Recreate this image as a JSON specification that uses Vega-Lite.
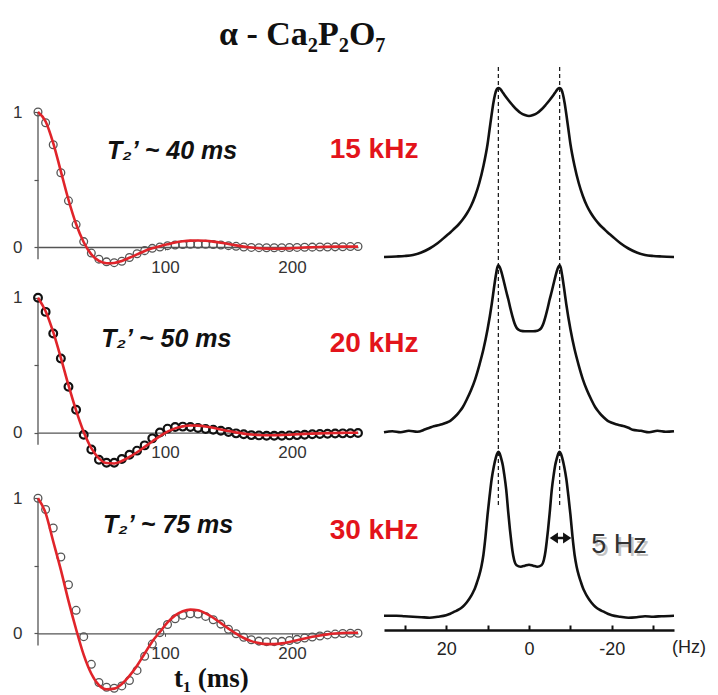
{
"$schema": "https://vega.github.io/schema/vega-lite/v6.json",
"background": "white",
"padding": {"left": 12, "top": 18, "right": 2, "bottom": 0},
"bounds": "flush",
"spacing": 346,
"config": {"view": {"stroke": null}, "axis": {"grid": false}},
"datasets": {
"c1": [{"t":0,"v":1.0},{"t":6,"v":0.92},{"t":12,"v":0.757},{"t":18,"v":0.55},{"t":24,"v":0.342},{"t":30,"v":0.166},{"t":36,"v":0.04},{"t":42,"v":-0.045},{"t":48,"v":-0.09},{"t":54,"v":-0.11},{"t":60,"v":-0.116},{"t":66,"v":-0.106},{"t":72,"v":-0.078},{"t":78,"v":-0.05},{"t":84,"v":-0.027},{"t":90,"v":-0.01},{"t":96,"v":0.0},{"t":102,"v":0.01},{"t":108,"v":0.015},{"t":114,"v":0.018},{"t":120,"v":0.02},{"t":126,"v":0.02},{"t":132,"v":0.02},{"t":138,"v":0.018},{"t":144,"v":0.015},{"t":150,"v":0.01},{"t":156,"v":0.005},{"t":162,"v":0.0},{"t":168,"v":-0.003},{"t":174,"v":-0.005},{"t":180,"v":-0.006},{"t":186,"v":-0.006},{"t":192,"v":-0.005},{"t":198,"v":-0.004},{"t":204,"v":-0.003},{"t":210,"v":-0.002},{"t":216,"v":-0.001},{"t":222,"v":0.0},{"t":228,"v":0.0},{"t":234,"v":0.001},{"t":240,"v":0.002},{"t":246,"v":0.003},{"t":252,"v":0.004}],
"f1": [{"t":0,"v":1.0},{"t":6,"v":0.93},{"t":12,"v":0.77},{"t":18,"v":0.56},{"t":24,"v":0.35},{"t":30,"v":0.17},{"t":36,"v":0.035},{"t":42,"v":-0.055},{"t":48,"v":-0.103},{"t":54,"v":-0.12},{"t":60,"v":-0.118},{"t":66,"v":-0.103},{"t":72,"v":-0.08},{"t":78,"v":-0.055},{"t":84,"v":-0.03},{"t":90,"v":-0.01},{"t":96,"v":0.006},{"t":102,"v":0.02},{"t":108,"v":0.033},{"t":114,"v":0.042},{"t":120,"v":0.047},{"t":126,"v":0.048},{"t":132,"v":0.046},{"t":138,"v":0.04},{"t":144,"v":0.032},{"t":150,"v":0.022},{"t":156,"v":0.012},{"t":162,"v":0.003},{"t":168,"v":-0.004},{"t":174,"v":-0.009},{"t":180,"v":-0.012},{"t":186,"v":-0.013},{"t":192,"v":-0.012},{"t":198,"v":-0.01},{"t":204,"v":-0.007},{"t":210,"v":-0.004},{"t":216,"v":-0.002},{"t":222,"v":0.0},{"t":228,"v":0.002},{"t":234,"v":0.003},{"t":240,"v":0.003},{"t":246,"v":0.003},{"t":252,"v":0.003}],
"c2": [{"t":0,"v":1.0},{"t":6,"v":0.895},{"t":12,"v":0.735},{"t":18,"v":0.55},{"t":24,"v":0.34},{"t":30,"v":0.17},{"t":36,"v":-0.015},{"t":42,"v":-0.125},{"t":48,"v":-0.2},{"t":54,"v":-0.222},{"t":60,"v":-0.222},{"t":66,"v":-0.195},{"t":72,"v":-0.163},{"t":78,"v":-0.133},{"t":84,"v":-0.094},{"t":90,"v":-0.042},{"t":96,"v":0.002},{"t":102,"v":0.03},{"t":108,"v":0.042},{"t":114,"v":0.045},{"t":120,"v":0.042},{"t":126,"v":0.035},{"t":132,"v":0.028},{"t":138,"v":0.022},{"t":144,"v":0.015},{"t":150,"v":0.005},{"t":156,"v":-0.005},{"t":162,"v":-0.012},{"t":168,"v":-0.018},{"t":174,"v":-0.02},{"t":180,"v":-0.022},{"t":186,"v":-0.022},{"t":192,"v":-0.022},{"t":198,"v":-0.02},{"t":204,"v":-0.018},{"t":210,"v":-0.015},{"t":216,"v":-0.012},{"t":222,"v":-0.01},{"t":228,"v":-0.008},{"t":234,"v":-0.006},{"t":240,"v":-0.005},{"t":246,"v":-0.004},{"t":252,"v":-0.003}],
"f2": [{"t":0,"v":1.0},{"t":6,"v":0.9},{"t":12,"v":0.745},{"t":18,"v":0.555},{"t":24,"v":0.352},{"t":30,"v":0.165},{"t":36,"v":0.005},{"t":42,"v":-0.115},{"t":48,"v":-0.19},{"t":54,"v":-0.225},{"t":60,"v":-0.228},{"t":66,"v":-0.21},{"t":72,"v":-0.18},{"t":78,"v":-0.145},{"t":84,"v":-0.105},{"t":90,"v":-0.065},{"t":96,"v":-0.025},{"t":102,"v":0.008},{"t":108,"v":0.032},{"t":114,"v":0.047},{"t":120,"v":0.053},{"t":126,"v":0.052},{"t":132,"v":0.046},{"t":138,"v":0.036},{"t":144,"v":0.024},{"t":150,"v":0.012},{"t":156,"v":0.002},{"t":162,"v":-0.007},{"t":168,"v":-0.013},{"t":174,"v":-0.017},{"t":180,"v":-0.019},{"t":186,"v":-0.019},{"t":192,"v":-0.017},{"t":198,"v":-0.015},{"t":204,"v":-0.012},{"t":210,"v":-0.009},{"t":216,"v":-0.007},{"t":222,"v":-0.005},{"t":228,"v":-0.003},{"t":234,"v":-0.002},{"t":240,"v":-0.001},{"t":246,"v":0.0},{"t":252,"v":0.0}],
"c3": [{"t":0,"v":1.0},{"t":6,"v":0.917},{"t":12,"v":0.78},{"t":18,"v":0.565},{"t":24,"v":0.36},{"t":30,"v":0.17},{"t":36,"v":-0.025},{"t":42,"v":-0.23},{"t":48,"v":-0.365},{"t":54,"v":-0.4},{"t":60,"v":-0.407},{"t":66,"v":-0.39},{"t":72,"v":-0.35},{"t":78,"v":-0.275},{"t":84,"v":-0.17},{"t":90,"v":-0.08},{"t":96,"v":0.005},{"t":102,"v":0.065},{"t":108,"v":0.108},{"t":114,"v":0.133},{"t":120,"v":0.145},{"t":126,"v":0.143},{"t":132,"v":0.125},{"t":138,"v":0.1},{"t":144,"v":0.068},{"t":150,"v":0.03},{"t":156,"v":-0.003},{"t":162,"v":-0.03},{"t":168,"v":-0.048},{"t":174,"v":-0.058},{"t":180,"v":-0.062},{"t":186,"v":-0.062},{"t":192,"v":-0.06},{"t":198,"v":-0.053},{"t":204,"v":-0.045},{"t":210,"v":-0.035},{"t":216,"v":-0.027},{"t":222,"v":-0.02},{"t":228,"v":-0.012},{"t":234,"v":-0.006},{"t":240,"v":-0.002},{"t":246,"v":0.0},{"t":252,"v":0.0}],
"f3": [{"t":0,"v":1.0},{"t":6,"v":0.89},{"t":12,"v":0.68},{"t":18,"v":0.47},{"t":24,"v":0.24},{"t":30,"v":0.03},{"t":36,"v":-0.16},{"t":42,"v":-0.3},{"t":48,"v":-0.385},{"t":54,"v":-0.415},{"t":60,"v":-0.41},{"t":66,"v":-0.375},{"t":72,"v":-0.315},{"t":78,"v":-0.24},{"t":84,"v":-0.15},{"t":90,"v":-0.06},{"t":96,"v":0.01},{"t":102,"v":0.08},{"t":108,"v":0.133},{"t":114,"v":0.163},{"t":120,"v":0.175},{"t":126,"v":0.17},{"t":132,"v":0.148},{"t":138,"v":0.115},{"t":144,"v":0.075},{"t":150,"v":0.035},{"t":156,"v":-0.003},{"t":162,"v":-0.035},{"t":168,"v":-0.058},{"t":174,"v":-0.073},{"t":180,"v":-0.08},{"t":186,"v":-0.08},{"t":192,"v":-0.075},{"t":198,"v":-0.064},{"t":204,"v":-0.051},{"t":210,"v":-0.038},{"t":216,"v":-0.026},{"t":222,"v":-0.016},{"t":228,"v":-0.008},{"t":234,"v":-0.002},{"t":240,"v":0.002},{"t":246,"v":0.004},{"t":252,"v":0.004}],
"s1": [{"hz":-35,"i":0},{"hz":-32,"i":0.5},{"hz":-30,"i":1},{"hz":-28,"i":2},{"hz":-26,"i":4.5},{"hz":-24,"i":8.5},{"hz":-22,"i":14},{"hz":-20,"i":21},{"hz":-19,"i":24.5},{"hz":-18,"i":28.5},{"hz":-17,"i":32.5},{"hz":-16,"i":37.5},{"hz":-15,"i":43.5},{"hz":-14,"i":51},{"hz":-13,"i":61},{"hz":-12,"i":74},{"hz":-11,"i":91},{"hz":-10,"i":113},{"hz":-9.5,"i":128},{"hz":-9,"i":143},{"hz":-8.6,"i":154},{"hz":-8.2,"i":162.5},{"hz":-7.8,"i":167.5},{"hz":-7.4,"i":169},{"hz":-7,"i":168.3},{"hz":-6.5,"i":165.5},{"hz":-6,"i":162.5},{"hz":-5,"i":157},{"hz":-4,"i":152},{"hz":-3,"i":147.5},{"hz":-2,"i":144},{"hz":-1,"i":142},{"hz":0,"i":141},{"hz":1,"i":142},{"hz":2,"i":144},{"hz":3,"i":147.5},{"hz":4,"i":152},{"hz":5,"i":157},{"hz":6,"i":162.5},{"hz":6.5,"i":165.5},{"hz":7,"i":168.3},{"hz":7.4,"i":169},{"hz":7.8,"i":167.5},{"hz":8.2,"i":162.5},{"hz":8.6,"i":154},{"hz":9,"i":143},{"hz":9.5,"i":128},{"hz":10,"i":113},{"hz":11,"i":91},{"hz":12,"i":74},{"hz":13,"i":61},{"hz":14,"i":51},{"hz":15,"i":43.5},{"hz":16,"i":37.5},{"hz":17,"i":32.5},{"hz":18,"i":28.5},{"hz":19,"i":24.5},{"hz":20,"i":21},{"hz":22,"i":14},{"hz":24,"i":8.5},{"hz":26,"i":4.5},{"hz":28,"i":2},{"hz":30,"i":1},{"hz":32,"i":0.5},{"hz":35,"i":0}],
"s2": [{"hz":-35,"i":1},{"hz":-33,"i":0.5},{"hz":-31,"i":1.5},{"hz":-29,"i":0},{"hz":-27,"i":1.5},{"hz":-25,"i":2.5},{"hz":-24,"i":4.5},{"hz":-23,"i":6},{"hz":-22,"i":7},{"hz":-21,"i":8},{"hz":-20,"i":9.5},{"hz":-19,"i":11.5},{"hz":-18,"i":15},{"hz":-17,"i":19.5},{"hz":-16,"i":25},{"hz":-15,"i":33},{"hz":-14,"i":42},{"hz":-13,"i":53},{"hz":-12,"i":67},{"hz":-11,"i":83},{"hz":-10,"i":103},{"hz":-9,"i":128},{"hz":-8.5,"i":143},{"hz":-8,"i":157},{"hz":-7.7,"i":164},{"hz":-7.4,"i":167},{"hz":-7.1,"i":165.5},{"hz":-6.7,"i":161},{"hz":-6.2,"i":153},{"hz":-5.5,"i":141},{"hz":-5,"i":133},{"hz":-4.5,"i":124},{"hz":-4,"i":116},{"hz":-3.5,"i":109},{"hz":-3,"i":104.5},{"hz":-2.5,"i":102.5},{"hz":-2,"i":101.5},{"hz":-1,"i":101},{"hz":0,"i":101},{"hz":1,"i":101},{"hz":2,"i":101.5},{"hz":2.5,"i":102.5},{"hz":3,"i":104.5},{"hz":3.5,"i":109},{"hz":4,"i":116},{"hz":4.5,"i":124},{"hz":5,"i":133},{"hz":5.5,"i":141},{"hz":6.2,"i":153},{"hz":6.7,"i":161},{"hz":7.1,"i":165.5},{"hz":7.4,"i":167},{"hz":7.7,"i":164},{"hz":8,"i":157},{"hz":8.5,"i":143},{"hz":9,"i":128},{"hz":10,"i":103},{"hz":11,"i":83},{"hz":12,"i":67},{"hz":13,"i":53},{"hz":14,"i":42},{"hz":15,"i":33},{"hz":16,"i":25},{"hz":17,"i":19.5},{"hz":18,"i":15},{"hz":19,"i":11.5},{"hz":20,"i":9.5},{"hz":21,"i":8},{"hz":22,"i":7},{"hz":23,"i":6},{"hz":24,"i":4.5},{"hz":25,"i":3},{"hz":27,"i":0.5},{"hz":29,"i":1.5},{"hz":31,"i":0},{"hz":33,"i":1},{"hz":35,"i":0}],
"s3": [{"hz":-35,"i":1},{"hz":-32,"i":0.5},{"hz":-30,"i":0},{"hz":-28,"i":0.5},{"hz":-26,"i":-0.5},{"hz":-24,"i":-1},{"hz":-22,"i":0},{"hz":-20,"i":1.5},{"hz":-19,"i":3},{"hz":-18,"i":5},{"hz":-17,"i":7},{"hz":-16,"i":10},{"hz":-15,"i":14.5},{"hz":-14,"i":20.5},{"hz":-13.5,"i":24.5},{"hz":-13,"i":29},{"hz":-12.5,"i":35},{"hz":-12,"i":41.5},{"hz":-11.5,"i":50},{"hz":-11,"i":62},{"hz":-10.5,"i":80},{"hz":-10,"i":102},{"hz":-9.5,"i":121},{"hz":-9,"i":138},{"hz":-8.5,"i":150},{"hz":-8,"i":159},{"hz":-7.7,"i":163},{"hz":-7.4,"i":165},{"hz":-7.1,"i":163.5},{"hz":-6.7,"i":158},{"hz":-6.3,"i":151},{"hz":-6,"i":143},{"hz":-5.5,"i":127},{"hz":-5,"i":104},{"hz":-4.6,"i":87},{"hz":-4.3,"i":76},{"hz":-4,"i":66},{"hz":-3.6,"i":57},{"hz":-3,"i":51.5},{"hz":-2,"i":50},{"hz":-1,"i":51},{"hz":0,"i":52},{"hz":1,"i":51},{"hz":2,"i":50},{"hz":3,"i":51.5},{"hz":3.6,"i":57},{"hz":4,"i":66},{"hz":4.3,"i":76},{"hz":4.6,"i":87},{"hz":5,"i":104},{"hz":5.5,"i":127},{"hz":6,"i":143},{"hz":6.3,"i":151},{"hz":6.7,"i":158},{"hz":7.1,"i":163.5},{"hz":7.4,"i":165},{"hz":7.7,"i":163},{"hz":8,"i":159},{"hz":8.5,"i":150},{"hz":9,"i":138},{"hz":9.5,"i":121},{"hz":10,"i":102},{"hz":10.5,"i":80},{"hz":11,"i":62},{"hz":11.5,"i":50},{"hz":12,"i":41.5},{"hz":12.5,"i":35},{"hz":13,"i":29},{"hz":13.5,"i":24.5},{"hz":14,"i":20.5},{"hz":15,"i":14.5},{"hz":16,"i":10},{"hz":17,"i":7},{"hz":18,"i":5},{"hz":19,"i":3},{"hz":20,"i":1.5},{"hz":22,"i":0},{"hz":24,"i":-1},{"hz":26,"i":-0.5},{"hz":28,"i":0},{"hz":30,"i":0.5},{"hz":32,"i":1},{"hz":35,"i":1}]
},
"hconcat": [
{"vconcat": [
 {"width": 320, "height": 212,
  "encoding": {
   "x": {"field": "t", "type": "quantitative", "scale": {"domain": [0, 252], "nice": false, "zero": false},
    "axis": {"orient": "bottom", "offset": -27, "values": [100, 200], "domainColor": "#555", "domainWidth": 1.3, "tickColor": "#555", "tickSize": 3, "tickWidth": 1, "labelFont": "Liberation Sans Narrow, Liberation Sans, sans-serif", "labelFontSize": 17, "labelColor": "#333", "labelPadding": 9, "title": null, "grid": false}},
   "y": {"field": "v", "type": "quantitative", "scale": {"domain": [-0.2, 1.3704], "nice": false, "zero": false},
    "axis": {"orient": "left", "values": [0, 0.5, 1], "labelExpr": "datum.value == 1 ? '1' : datum.value == 0 ? '0' : ''", "domain": false, "tickColor": "#555", "tickSize": 4, "tickWidth": 1.2, "labelFont": "Liberation Sans Narrow, Liberation Sans, sans-serif", "labelFontSize": 17, "labelColor": "#333", "labelPadding": 12, "title": null, "grid": false}}
  },
  "layer": [
   {"data": {"values": [{"t": 0, "v": -0.09, "v2": 1.0}]}, "mark": {"type": "rule", "color": "#555", "strokeWidth": 1.3}, "encoding": {"y2": {"field": "v2"}}},
   {"data": {"name": "c1"}, "mark": {"type": "point", "shape": "circle", "filled": false, "color": "#555", "strokeWidth": 1.3, "size": 60, "opacity": 1}, "encoding": {}},
   {"data": {"name": "f1"}, "mark": {"type": "line", "color": "#e0242a", "strokeWidth": 2.6, "interpolate": "monotone"}, "encoding": {}},
   {"data": {"values": [{"t": 105.6, "v": 0.655, "label": "T₂’ ~ 40 ms"}]}, "mark": {"type": "text", "font": "Liberation Sans, DejaVu Sans, sans-serif", "fontSize": 25, "fontWeight": "bold", "fontStyle": "italic", "color": "#111", "align": "center", "baseline": "alphabetic"}, "encoding": {"text": {"field": "label"}}},
   {"data": {"values": [{"t": 208.1, "v": 1.4963, "label": "α - Ca₂P₂O₇"}]}, "mark": {"type": "text", "font": "Liberation Serif, DejaVu Serif, serif", "fontSize": 34, "fontWeight": "bold", "color": "#111", "align": "center", "baseline": "alphabetic"}, "encoding": {"text": {"field": "label"}}}
  ]
 },
 {"width": 320, "height": 190,
  "encoding": {
   "x": {"field": "t", "type": "quantitative", "scale": {"domain": [0, 252], "nice": false, "zero": false},
    "axis": {"orient": "bottom", "offset": -41.3, "values": [100, 200], "domainColor": "#555", "domainWidth": 1.3, "tickColor": "#555", "tickSize": 3, "tickWidth": 1, "labelFont": "Liberation Sans Narrow, Liberation Sans, sans-serif", "labelFontSize": 17, "labelColor": "#333", "labelPadding": 9, "title": null, "grid": false}},
   "y": {"field": "v", "type": "quantitative", "scale": {"domain": [-0.306, 1.1015], "nice": false, "zero": false},
    "axis": {"orient": "left", "values": [0, 0.5, 1], "labelExpr": "datum.value == 1 ? '1' : datum.value == 0 ? '0' : ''", "domain": false, "tickColor": "#555", "tickSize": 4, "tickWidth": 1.2, "labelFont": "Liberation Sans Narrow, Liberation Sans, sans-serif", "labelFontSize": 17, "labelColor": "#333", "labelPadding": 12, "title": null, "grid": false}}
  },
  "layer": [
   {"data": {"values": [{"t": 0, "v": -0.09, "v2": 1.0}]}, "mark": {"type": "rule", "color": "#555", "strokeWidth": 1.3}, "encoding": {"y2": {"field": "v2"}}},
   {"data": {"name": "c2"}, "mark": {"type": "point", "shape": "circle", "filled": false, "color": "#111", "strokeWidth": 2.2, "size": 60, "opacity": 1}, "encoding": {}},
   {"data": {"name": "f2"}, "mark": {"type": "line", "color": "#e0242a", "strokeWidth": 2.6, "interpolate": "monotone"}, "encoding": {}},
   {"data": {"values": [{"t": 101, "v": 0.633, "label": "T₂’ ~ 50 ms"}]}, "mark": {"type": "text", "font": "Liberation Sans, DejaVu Sans, sans-serif", "fontSize": 25, "fontWeight": "bold", "fontStyle": "italic", "color": "#111", "align": "center", "baseline": "alphabetic"}, "encoding": {"text": {"field": "label"}}}
  ]
 },
 {"width": 320, "height": 208,
  "encoding": {
   "x": {"field": "t", "type": "quantitative", "scale": {"domain": [0, 252], "nice": false, "zero": false},
    "axis": {"orient": "bottom", "offset": -58.7, "values": [100, 200], "domainColor": "#555", "domainWidth": 1.3, "tickColor": "#555", "tickSize": 3, "tickWidth": 1, "labelFont": "Liberation Sans Narrow, Liberation Sans, sans-serif", "labelFontSize": 17, "labelColor": "#333", "labelPadding": 9, "title": null, "grid": false}},
   "y": {"field": "v", "type": "quantitative", "scale": {"domain": [-0.435, 1.106], "nice": false, "zero": false},
    "axis": {"orient": "left", "values": [0, 0.5, 1], "labelExpr": "datum.value == 1 ? '1' : datum.value == 0 ? '0' : ''", "domain": false, "tickColor": "#555", "tickSize": 4, "tickWidth": 1.2, "labelFont": "Liberation Sans Narrow, Liberation Sans, sans-serif", "labelFontSize": 17, "labelColor": "#333", "labelPadding": 12, "title": null, "grid": false}}
  },
  "layer": [
   {"data": {"values": [{"t": 0, "v": -0.09, "v2": 1.0}]}, "mark": {"type": "rule", "color": "#555", "strokeWidth": 1.3}, "encoding": {"y2": {"field": "v2"}}},
   {"data": {"name": "c3"}, "mark": {"type": "point", "shape": "circle", "filled": false, "color": "#555", "strokeWidth": 1.3, "size": 60, "opacity": 1}, "encoding": {}},
   {"data": {"name": "f3"}, "mark": {"type": "line", "color": "#e0242a", "strokeWidth": 2.6, "interpolate": "monotone"}, "encoding": {}},
   {"data": {"values": [{"t": 102.4, "v": 0.74, "label": "T₂’ ~ 75 ms"}]}, "mark": {"type": "text", "font": "Liberation Sans, DejaVu Sans, sans-serif", "fontSize": 25, "fontWeight": "bold", "fontStyle": "italic", "color": "#111", "align": "center", "baseline": "alphabetic"}, "encoding": {"text": {"field": "label"}}},
   {"data": {"values": [{"t": 136.5, "v": -0.398, "label": "t₁ (ms)"}]}, "mark": {"type": "text", "font": "Liberation Serif, DejaVu Serif, serif", "fontSize": 27, "fontWeight": "bold", "color": "#111", "align": "center", "baseline": "alphabetic"}, "encoding": {"text": {"field": "label"}}}
  ]
 }
], "spacing": 10, "bounds": "flush"},
{"width": 290, "height": 568,
 "encoding": {
  "x": {"field": "hz", "type": "quantitative", "scale": {"domain": [-35, 35], "reverse": true, "nice": false, "zero": false},
   "axis": {"orient": "bottom", "values": [-30, -20, -10, 0, 10, 20, 30], "labelExpr": "datum.value == 20 ? '20' : datum.value == 0 ? '0' : datum.value == -20 ? '-20' : ''", "domainColor": "#111", "domainWidth": 2.5, "tickColor": "#111", "tickWidth": 2, "tickSize": -5, "labelFont": "Liberation Sans, sans-serif", "labelFontSize": 18, "labelColor": "#222", "labelPadding": 15, "labelOverlap": false, "labelFlush": false, "title": null, "grid": false}}
 },
 "layer": [
  {"layer": [
   {"data": {"name": "s1"}, "mark": {"type": "line", "color": "#111", "strokeWidth": 2.6, "interpolate": "monotone"}, "encoding": {"y": {"field": "i", "type": "quantitative", "scale": {"domain": [-373, 195], "nice": false, "zero": false}, "axis": null}}},
   {"data": {"values": [{"hz": 37.4, "i": 98.7, "label": "15 kHz"}]}, "mark": {"type": "text", "font": "Liberation Sans, sans-serif", "fontSize": 28, "fontWeight": "bold", "color": "#e3141b", "align": "center", "baseline": "alphabetic"}, "encoding": {"y": {"field": "i", "type": "quantitative", "scale": {"domain": [-373, 195], "nice": false, "zero": false}, "axis": null}, "text": {"field": "label"}}}
  ]},
  {"layer": [
   {"data": {"name": "s2"}, "mark": {"type": "line", "color": "#111", "strokeWidth": 2.6, "interpolate": "monotone"}, "encoding": {"y": {"field": "i", "type": "quantitative", "scale": {"domain": [-197.7, 370.3], "nice": false, "zero": false}, "axis": null}}},
   {"data": {"values": [{"hz": 37.4, "i": 80.6, "label": "20 kHz"}]}, "mark": {"type": "text", "font": "Liberation Sans, sans-serif", "fontSize": 28, "fontWeight": "bold", "color": "#e3141b", "align": "center", "baseline": "alphabetic"}, "encoding": {"y": {"field": "i", "type": "quantitative", "scale": {"domain": [-197.7, 370.3], "nice": false, "zero": false}, "axis": null}, "text": {"field": "label"}}}
  ]},
  {"layer": [
   {"data": {"values": [{"hz": 7.4, "i": 111.7, "i2": 551.7}, {"hz": -7.4, "i": 111.7, "i2": 551.7}]}, "mark": {"type": "rule", "color": "#111", "strokeWidth": 1.2, "strokeDash": [4, 3]}, "encoding": {"y": {"field": "i", "type": "quantitative", "scale": {"domain": [-13.3, 554.7], "nice": false, "zero": false}, "axis": null}, "y2": {"field": "i2"}}},
   {"data": {"name": "s3"}, "mark": {"type": "line", "color": "#111", "strokeWidth": 2.6, "interpolate": "monotone"}, "encoding": {"y": {"field": "i", "type": "quantitative", "scale": {"domain": [-13.3, 554.7], "nice": false, "zero": false}, "axis": null}}},
   {"data": {"values": [{"hz": 37.4, "i": 77.4, "label": "30 kHz"}]}, "mark": {"type": "text", "font": "Liberation Sans, sans-serif", "fontSize": 28, "fontWeight": "bold", "color": "#e3141b", "align": "center", "baseline": "alphabetic"}, "encoding": {"y": {"field": "i", "type": "quantitative", "scale": {"domain": [-13.3, 554.7], "nice": false, "zero": false}, "axis": null}, "text": {"field": "label"}}},
   {"data": {"values": [{"hz": -5.8, "hz2": -9.4, "i": 78.7}]}, "mark": {"type": "rule", "color": "#111", "strokeWidth": 2.5}, "encoding": {"x2": {"field": "hz2"}, "y": {"field": "i", "type": "quantitative", "scale": {"domain": [-13.3, 554.7], "nice": false, "zero": false}, "axis": null}}},
   {"data": {"values": [{"hz": -6.32, "i": 78.7}]}, "mark": {"type": "point", "shape": "M-1,0L0.5,-1L0.5,1Z", "filled": true, "color": "#111", "size": 121, "opacity": 1}, "encoding": {"y": {"field": "i", "type": "quantitative", "scale": {"domain": [-13.3, 554.7], "nice": false, "zero": false}, "axis": null}}},
   {"data": {"values": [{"hz": -8.88, "i": 78.7}]}, "mark": {"type": "point", "shape": "M1,0L-0.5,-1L-0.5,1Z", "filled": true, "color": "#111", "size": 121, "opacity": 1}, "encoding": {"y": {"field": "i", "type": "quantitative", "scale": {"domain": [-13.3, 554.7], "nice": false, "zero": false}, "axis": null}}},
   {"data": {"values": [{"hz": -15.0, "i": 63.4, "label": "5 Hz"}]}, "mark": {"type": "text", "font": "Liberation Sans, sans-serif", "fontSize": 27, "color": "#c4c4c4", "align": "left", "baseline": "alphabetic", "dx": 2.5, "dy": 2.5}, "encoding": {"y": {"field": "i", "type": "quantitative", "scale": {"domain": [-13.3, 554.7], "nice": false, "zero": false}, "axis": null}, "text": {"field": "label"}}},
   {"data": {"values": [{"hz": -15.0, "i": 63.4, "label": "5 Hz"}]}, "mark": {"type": "text", "font": "Liberation Sans, sans-serif", "fontSize": 27, "color": "#333", "align": "left", "baseline": "alphabetic"}, "encoding": {"y": {"field": "i", "type": "quantitative", "scale": {"domain": [-13.3, 554.7], "nice": false, "zero": false}, "axis": null}, "text": {"field": "label"}}},
   {"data": {"values": [{"hz": -34.5, "i": -31.3, "label": "(Hz)"}]}, "mark": {"type": "text", "font": "Liberation Sans, sans-serif", "fontSize": 18, "color": "#222", "align": "left", "baseline": "middle"}, "encoding": {"y": {"field": "i", "type": "quantitative", "scale": {"domain": [-13.3, 554.7], "nice": false, "zero": false}, "axis": null}, "text": {"field": "label"}}}
  ]}
 ],
 "resolve": {"scale": {"y": "independent"}}
}
]
}
